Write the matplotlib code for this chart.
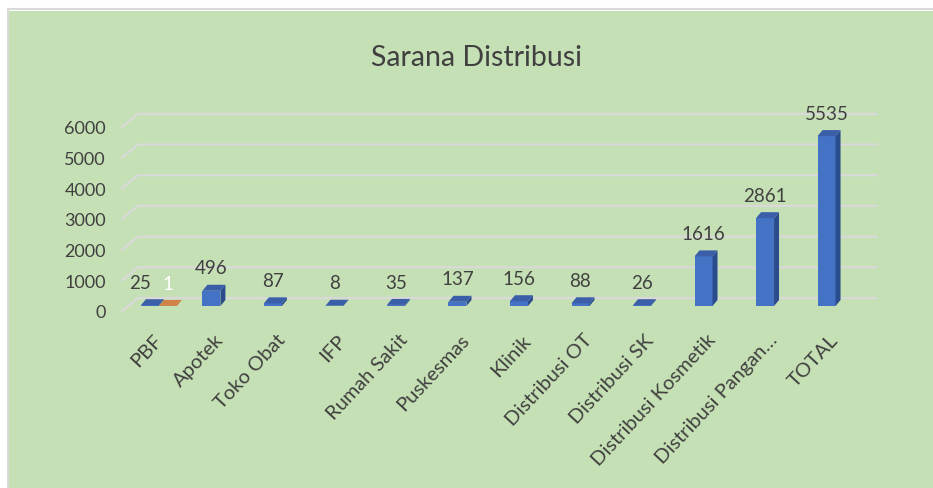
import matplotlib
matplotlib.use("Agg")
import matplotlib.pyplot as plt
import matplotlib.transforms as mtransforms
from matplotlib.patches import Polygon, Rectangle
from matplotlib.lines import Line2D
import numpy as np

categories = ["PBF", "Apotek", "Toko Obat", "IFP", "Rumah Sakit", "Puskesmas", "Klinik",
              "Distribusi OT", "Distribusi SK", "Distribusi Kosmetik", "Distribusi Pangan…", "TOTAL"]
series_1 = [25, 496, 87, 8, 35, 137, 156, 88, 26, 1616, 2861, 5535]
series_2 = [1, np.nan, np.nan, np.nan, np.nan, np.nan, np.nan, np.nan, np.nan, np.nan, np.nan, np.nan]
y_ticks = [0, 1000, 2000, 3000, 4000, 5000, 6000]
title = "Sarana Distribusi"

W, H, DPI = 933, 489, 100
TEXT = "#404040"
GRID = "#D9D9D9"
BLUE = ("#4472C4", "#2B4C8C", "#3A5FA8")     # front, side, top
ORANGE = ("#C55A11", "#9E4A10", "#D08248")

plt.rcParams["font.family"] = ["Lato", "DejaVu Sans"]

fig = plt.figure(figsize=(W / DPI, H / DPI), dpi=DPI, facecolor="white")

# green chart area with thin grey border on top/left
fig.patches.append(Rectangle((9 / W, 0), 1, 1 - 12 / H, transform=fig.transFigure,
                             facecolor="#C5E0B4", edgecolor="none", zorder=-10))
fig.add_artist(Line2D([8 / W, 8 / W], [0, 1 - 10 / H], transform=fig.transFigure, color=GRID, lw=1.5))
fig.add_artist(Line2D([8 / W, 1], [1 - 10 / H, 1 - 10 / H], transform=fig.transFigure, color=GRID, lw=1.5))

# plot area in pixels (bar plane)
left_px, right_px, base_px, top_px = 122, 870, 307, 113.6
xlim = (-0.6, 11.56)
ylim = (0, 6300)
ax = fig.add_axes([left_px / W, 1 - base_px / H, (right_px - left_px) / W, (base_px - top_px) / H])
ax.set_xlim(*xlim)
ax.set_ylim(*ylim)
ax.set_facecolor("none")
for s in ax.spines.values():
    s.set_visible(False)

px_x = (right_px - left_px) / (xlim[1] - xlim[0])
px_y = (base_px - top_px) / (ylim[1] - ylim[0])

# 3d-ish gridlines: front edge, back wall
for v in y_ticks:
    xs = [xlim[0], xlim[0] + 16 / px_x, xlim[1] + 7 / px_x]
    ys = [v - 5 / px_y, v + 8 / px_y, v + 8 / px_y]
    ax.add_line(Line2D(xs, ys, color=GRID, lw=1.6, clip_on=False, zorder=0.5))

bar_w = 18 / px_x
ddx, ddy = 5 / px_x, 6 / px_y
x = np.arange(len(categories))
s1 = np.array(series_1, float)
s2 = np.array(series_2, float)


def draw_bars(xc, vals, colors, label_color, nudge):
    front, side, top = colors
    ax.bar(xc, vals, width=bar_w, color=front, zorder=2, clip_on=False)
    for xi, v, dx in zip(xc, vals, nudge):
        if np.isnan(v):
            continue
        xl, xr = xi - bar_w / 2, xi + bar_w / 2
        ax.add_patch(Polygon([(xr, 0), (xr + ddx, ddy), (xr + ddx, v + ddy), (xr, v)],
                             closed=True, facecolor=side, edgecolor="none", zorder=2, clip_on=False))
        ax.add_patch(Polygon([(xl, v), (xl + ddx, v + ddy), (xr + ddx, v + ddy), (xr, v)],
                             closed=True, facecolor=top, edgecolor="none", zorder=2, clip_on=False))
        ax.annotate(f"{int(v)}", (xi, v), xytext=(dx, 12.5), textcoords="offset points",
                    ha="center", va="baseline", fontsize=13.5, color=label_color,
                    annotation_clip=False)


# push the blue label aside where an orange label sits next to it
nudge_1 = np.where(np.isnan(s2), 0, -7)
draw_bars(x - bar_w / 2, s1, BLUE, TEXT, nudge_1)
draw_bars(x + bar_w / 2, s2, ORANGE, "white", np.zeros(len(x)))

# y axis labels sit on the front edge
ax.set_yticks(y_ticks)
ax.tick_params(axis="y", length=0, pad=16 * 0.72, labelsize=13, labelcolor=TEXT)
shift = mtransforms.ScaledTranslation(0, -5 / DPI, fig.dpi_scale_trans)
for lab in ax.get_yticklabels():
    lab.set_transform(lab.get_transform() + shift)

ax.set_xticks(x)
ax.set_xticklabels(categories, rotation=47, ha="right", va="center", rotation_mode="anchor")
ax.tick_params(axis="x", length=0, pad=22, labelsize=14.5, labelcolor=TEXT)

fig.text(476.5 / W, 1 - 66 / H, title, ha="center", va="baseline", fontsize=20.5,
         color=TEXT)

fig.savefig("out.png", dpi=DPI, facecolor="white")
